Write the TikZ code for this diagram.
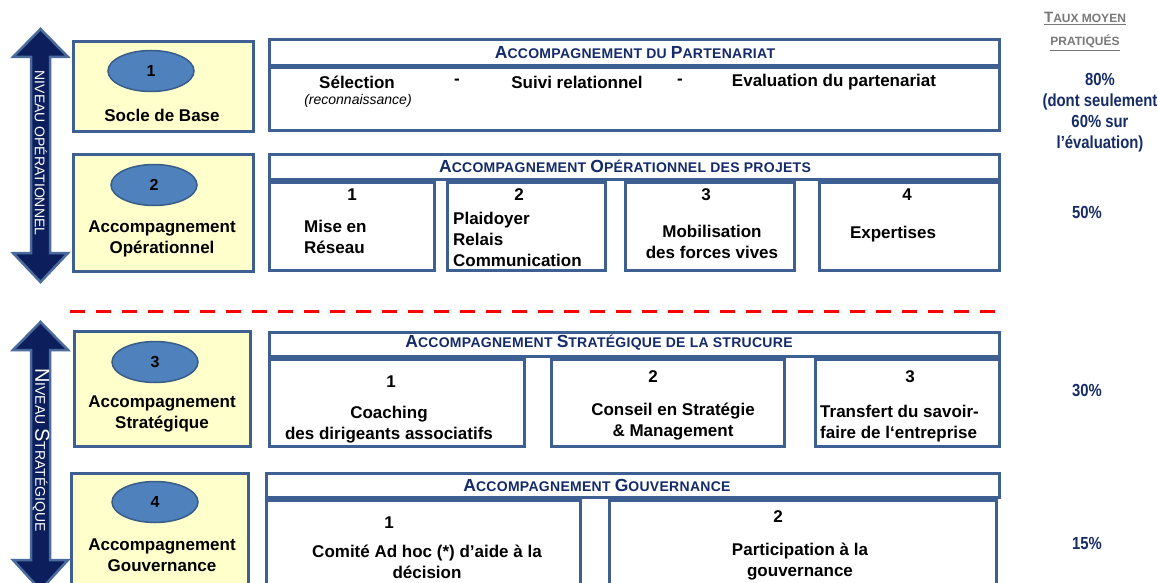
\documentclass[tikz,border=0pt]{standalone}
\usepackage{fontspec}
\setmainfont{Liberation Sans}
\newfontfamily\pctfont{Liberation Sans Bold}[FakeStretch=0.85]
\usetikzlibrary{shapes.geometric}
\definecolor{boxblue}{RGB}{61,95,145}
\definecolor{yellowf}{RGB}{255,255,204}
\definecolor{ellfill}{RGB}{79,129,189}
\definecolor{elldraw}{RGB}{56,93,138}
\definecolor{arrowfill}{RGB}{12,30,91}
\definecolor{arrowdraw}{RGB}{74,107,156}
\definecolor{hdrblue}{RGB}{20,43,107}
\definecolor{pctblue}{RGB}{22,44,102}
\definecolor{greyt}{RGB}{120,120,120}
\newcommand\bigL[1]{{\fontsize{17.5}{18}\selectfont #1}}
\newcommand\bigA[1]{{\fontsize{20}{20}\selectfont #1}}
\newcommand\bigT[1]{{\fontsize{15}{16}\selectfont #1}}
\tikzset{
  ybox/.style={draw=boxblue, line width=3pt, fill=yellowf, inner sep=0pt},
  wbox/.style={draw=boxblue, line width=3pt, fill=white, inner sep=0pt},
  ell/.style={ellipse, draw=elldraw, line width=1.5pt, fill=ellfill, minimum width=86pt, minimum height=41pt, inner sep=0pt, font=\bfseries\fontsize{16}{18}\selectfont},
  txt/.style={inner sep=0pt, align=center, font=\bfseries\fontsize{17}{21}\selectfont},
  ltxt/.style={inner sep=0pt, align=left, font=\bfseries\fontsize{17}{21}\selectfont},
  hdr/.style={inner sep=0pt, text=hdrblue, font=\bfseries\fontsize{14}{16}\selectfont\addfontfeature{LetterSpace=2}},
  pct/.style={inner sep=0pt, align=center, text=pctblue, font=\pctfont\fontsize{17.5}{21}\selectfont},
  arrowshape/.style={fill=arrowfill, draw=arrowdraw, line width=2.5pt, line join=miter},
  arrtxt/.style={inner sep=0pt, text=white, rotate=-90, font=\fontsize{14}{15}\selectfont}
}
\begin{document}
\begin{tikzpicture}[x=1pt,y=-1pt]
\useasboundingbox (0,0) rectangle (1158,583);
% vertical double arrows
\draw[arrowshape] (40.5,29) -- (68,57) -- (50,57) -- (50,253) -- (68,253) -- (40.5,282)
  -- (13,253) -- (31,253) -- (31,57) -- (13,57) -- cycle;
\node[arrtxt] (lvlop) at (41,153) {NIVEAU OPÉRATIONNEL};
\draw[arrowshape] (40.5,322) -- (68,350) -- (50,350) -- (50,560) -- (68,560) -- (40.5,590)
  -- (13,560) -- (31,560) -- (31,350) -- (13,350) -- cycle;
\node[arrtxt] (lvlst) at (41,450) {\bigA{N}IVEAU \bigA{S}TRATÉGIQUE};

% yellow boxes
\node[ybox, minimum width=180pt, minimum height=90pt] (y1) at (163.5,86.5) {};
\node[ybox, minimum width=180pt, minimum height=117pt] (y2) at (163.5,213) {};
\node[ybox, minimum width=176pt, minimum height=115pt] (y3) at (162.5,389) {};
\node[ybox, minimum width=177pt, minimum height=125pt] (y4) at (160,536) {};
\node[ell] (e1) at (151,71) {1};
\node[ell] (e2) at (154,185) {2};
\node[ell] (e3) at (155,362) {3};
\node[ell] (e4) at (155,502) {4};
\node[txt] (t1) at (162,115) {Socle de Base};
\node[txt] (t2) at (162,238.5) {Accompagnement\\Opérationnel};
\node[txt] (t3) at (162,414) {Accompagnement\\Stratégique};
\node[txt] (t4) at (162,555.5) {Accompagnement\\Gouvernance};

% row 1
\node[wbox, minimum width=730pt, minimum height=63pt] (r1b) at (634.5,99) {};
\node[wbox, minimum width=730pt, minimum height=26pt] (r1h) at (634.5,53) {};
\node[hdr] (r1ht) at (635,53) {\bigL{A}CCOMPAGNEMENT DU \bigL{P}ARTENARIAT};
\node[txt] (r1s) at (357,82) {Sélection};
\node[inner sep=0pt, font=\itshape\fontsize{14}{16}\selectfont] (r1r) at (358,101) {(reconnaissance)};
\node[txt] (r1d1) at (457,82) {-};
\node[txt] (r1su) at (577,82) {Suivi relationnel};
\node[txt] (r1d2) at (680,82) {-};
\node[txt] (r1ev) at (834,82) {Evaluation du partenariat};

% row 2
\node[wbox, minimum width=730pt, minimum height=25pt] (r2h) at (634.5,167) {};
\node[hdr] (r2ht) at (625,166) {\bigL{A}CCOMPAGNEMENT \bigL{O}PÉRATIONNEL DES PROJETS};
\node[wbox, minimum width=165pt, minimum height=88pt] (r2a) at (352,226.5) {};
\node[wbox, minimum width=158pt, minimum height=88pt] (r2b) at (526.5,226.5) {};
\node[wbox, minimum width=169pt, minimum height=88pt] (r2c) at (710,226.5) {};
\node[wbox, minimum width=180pt, minimum height=88pt] (r2d) at (909.5,226.5) {};
\node[txt] (r2a1) at (352,195) {1};
\node[ltxt, anchor=west] (r2a2) at (304,236.5) {Mise en\\Réseau};
\node[txt] (r2b1) at (519,195) {2};
\node[ltxt, anchor=west] (r2b2) at (453,239) {Plaidoyer\\Relais\\Communication};
\node[txt] (r2c1) at (706,195) {3};
\node[txt] (r2c2) at (712,241.5) {Mobilisation\\des forces vives};
\node[txt] (r2d1) at (907,195) {4};
\node[txt] (r2d2) at (893,234) {Expertises};

% dashed separator
\coordinate (sepL) at (70,311);
\coordinate (sepR) at (1000,311);
\draw[red, line width=3pt, dash pattern=on 15pt off 11pt] (sepL) -- (sepR);

% row 3
\node[wbox, minimum width=730pt, minimum height=24pt] (r3h) at (634.5,344.5) {};
\node[hdr] (r3ht) at (599,343) {\bigL{A}CCOMPAGNEMENT \bigL{S}TRATÉGIQUE DE LA STRUCURE};
\node[wbox, minimum width=255pt, minimum height=87pt] (r3a) at (397,403) {};
\node[wbox, minimum width=233pt, minimum height=87pt] (r3b) at (668,403) {};
\node[wbox, minimum width=184pt, minimum height=87pt] (r3c) at (907.5,403) {};
\node[txt] (r3a1) at (391,382) {1};
\node[txt] (r3a2) at (389,424.5) {Coaching\\des dirigeants associatifs};
\node[txt] (r3b1) at (653,377) {2};
\node[txt] (r3b2) at (673,421.5) {Conseil en Stratégie\\\& Management};
\node[txt] (r3c1) at (910,377) {3};
\node[ltxt, anchor=west] (r3c2) at (820,423.5) {Transfert du savoir-\\faire de l‘entreprise};

% row 4
\node[wbox, minimum width=733pt, minimum height=24pt] (r4h) at (633,485.5) {};
\node[hdr] (r4ht) at (597,485) {\bigL{A}CCOMPAGNEMENT \bigL{G}OUVERNANCE};
\node[wbox, minimum width=314pt, minimum height=98pt] (r4a) at (423.5,549.5) {};
\node[wbox, minimum width=387pt, minimum height=98pt] (r4b) at (803,549.5) {};
\node[txt] (r4a1) at (389,523) {1};
\node[txt] (r4a2) at (427,561.5) {Comité Ad hoc (*) d’aide à la\\décision};
\node[txt] (r4b1) at (778,517) {2};
\node[txt] (r4b2) at (800,561.5) {Participation à la\\gouvernance};

% right column
\node[inner sep=0pt, align=center, text=greyt, font=\bfseries\fontsize{12}{23}\selectfont] (taux) at (1085,31.5)
  {\underline{\bigT{T}AUX MOYEN}\\\underline{PRATIQUÉS}};
\node[pct] (p1) at (1100,112.5) {80\%\\(dont seulement\\60\% sur\\l’évaluation)};
\node[pct] (p2) at (1087,212) {50\%};
\node[pct] (p3) at (1087,390) {30\%};
\node[pct] (p4) at (1087,543) {15\%};
\end{tikzpicture}
\end{document}
